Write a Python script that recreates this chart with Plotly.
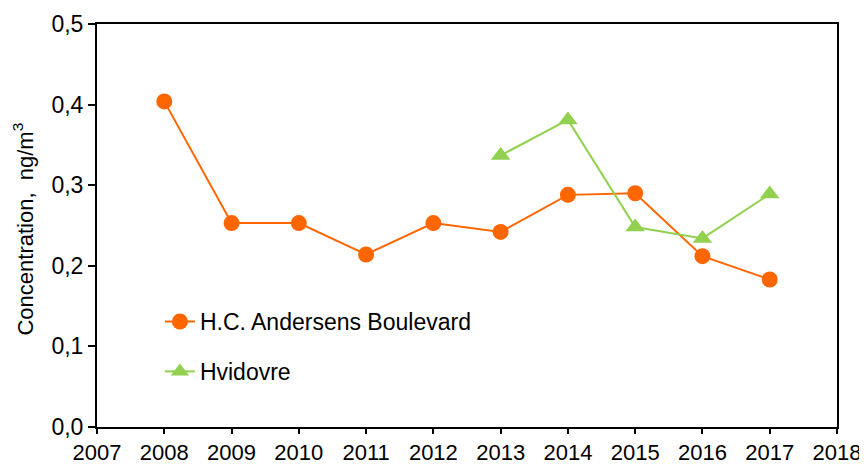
import plotly.graph_objects as go

years_hca = [2008, 2009, 2010, 2011, 2012, 2013, 2014, 2015, 2016, 2017]
hca_values = [0.404, 0.253, 0.253, 0.214, 0.253, 0.242, 0.288, 0.290, 0.212, 0.183]

years_hv = [2013, 2014, 2015, 2016, 2017]
hv_values = [0.337, 0.381, 0.248, 0.234, 0.289]

x_ticks = list(range(2007, 2019))
y_ticks = [0.0, 0.1, 0.2, 0.3, 0.4, 0.5]
y_title = "Concentration,  ng/m<sup>3</sup>"

FONT = "Liberation Sans, Arial, sans-serif"

fig = go.Figure()
fig.add_trace(go.Scatter(
    x=years_hca, y=hca_values, mode="lines+markers",
    name="H.C. Andersens Boulevard", legendgroup="a",
    line=dict(color="#FF6600", width=2),
    marker=dict(symbol="circle", size=16, color="#FF6600"),
))
fig.add_trace(go.Scatter(
    x=years_hv, y=hv_values, mode="lines+markers",
    name="Hvidovre", legendgroup="b",
    line=dict(color="#92D050", width=2),
    marker=dict(symbol="triangle-up", size=17, color="#92D050"),
))

fig.update_layout(
    width=859, height=458,
    margin=dict(l=89, r=30, t=16, b=39, autoexpand=False),
    paper_bgcolor="white", plot_bgcolor="white",
    font=dict(family=FONT, size=23, color="black"),
    separators=",.",
    showlegend=True,
    legend=dict(
        x=0.085, y=0.315, xanchor="left", yanchor="top",
        bgcolor="rgba(0,0,0,0)", font=dict(size=23),
        tracegroupgap=17, traceorder="grouped",
    ),
    annotations=[dict(
        text=y_title, textangle=-90, xref="paper", yref="paper",
        x=-0.1, y=0.49, xanchor="center", yanchor="middle",
        showarrow=False, font=dict(size=22),
    )],
)
fig.update_xaxes(
    range=[2007, 2018], tickvals=x_ticks, tickformat="d",
    showgrid=False, zeroline=False, automargin=False,
    showline=True, linecolor="black", linewidth=2, mirror=True,
    ticks="outside", ticklen=5, tickcolor="black", tickwidth=1.5,
    tickfont=dict(size=22),
)
fig.update_yaxes(
    range=[0, 0.5], tickvals=y_ticks, tickformat=".1f",
    showgrid=False, zeroline=False, automargin=False,
    showline=True, linecolor="black", linewidth=2, mirror=True,
    ticks="outside", ticklen=7, tickcolor="black", tickwidth=1.5,
)

fig.write_html("out.html")
